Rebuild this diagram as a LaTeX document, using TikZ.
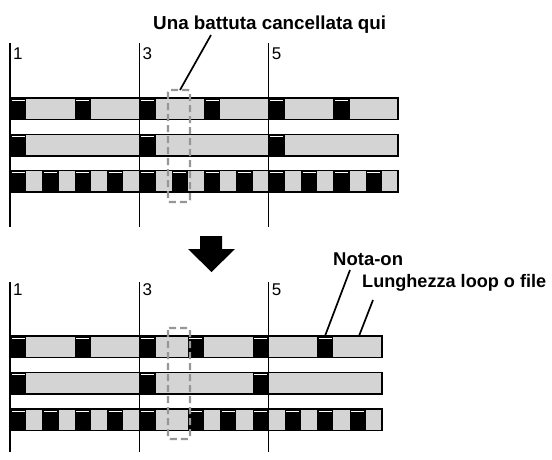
\documentclass[tikz,border=0pt]{standalone}
\usepackage{fontspec}
\setmainfont{Liberation Sans}
\definecolor{bargray}{RGB}{212,212,212}
\definecolor{dashgray}{RGB}{150,150,150}
\tikzset{
  barfill/.style={fill=bargray},
  barline/.style={line width=1.6pt},
  measureline/.style={line width=1.5pt},
  numlabel/.style={anchor=base west, inner sep=0pt, font=\fontsize{17}{17}\selectfont},
  calllabel/.style={inner sep=0pt, anchor=base west, font=\fontsize{#1}{#1}\selectfont\bfseries},
  calllabel/.default=18.5,
  leader/.style={line width=1.7pt},
  cutbox/.style={draw=dashgray, line width=2.3pt, dash pattern=on 7pt off 4pt, rounded corners=2pt},
}
\newcommand{\drawbar}[3]{%
  \fill[barfill] (10,#1) rectangle (#2,#1+21.5);
  \foreach \bx in {#3} {
    \fill[black] (\bx,#1) rectangle (\bx+16.17,#1+21.5);
    \draw[white, line width=0.7pt] (\bx+1.6,#1+1.9) -- (\bx+14.57,#1+1.9);
  }
  \draw[barline] (10,#1) rectangle (#2,#1+21.5);
}
\begin{document}
\begin{tikzpicture}[x=1pt,y=-1pt]
\useasboundingbox (0,0) rectangle (552,459);
% ---------- top section ----------
\drawbar{98}{398}{10,74.67,139.33,204,268.67,333.33}
\drawbar{134.5}{398}{10,139.33,268.67}
\drawbar{170.5}{398}{10,42.33,74.67,107,139.33,171.67,204,236.33,268.67,301,333.33,365.67}
\foreach \mx/\lab in {10/1,139.33/3,268.67/5} {
  \draw[measureline] (\mx,43) -- (\mx,227);
  \node[numlabel] at (\mx+3,59.5) {\lab};
}
\draw[cutbox] (168,90) rectangle (190,202);
\coordinate (cutTop) at (180,90);
\node[calllabel=18.8] (title) at (153,29.5) {Una battuta cancellata qui};
\draw[leader] (cutTop) -- (211,35);
% ---------- arrow ----------
\fill[black] (200,236) -- (222,236) -- (222,249) -- (235,249) -- (211.5,272) -- (188,249) -- (200,249) -- cycle;
% ---------- bottom section ----------
\drawbar{336}{381.83}{10,74.67,139.33,187.83,252.5,317.17}
\drawbar{372.5}{381.83}{10,139.33,252.5}
\drawbar{409}{381.83}{10,42.33,74.67,107,139.33,187.83,220.17,252.5,284.83,317.17,349.5}
\foreach \mx/\lab in {10/1,139.33/3,268.67/5} {
  \draw[measureline] (\mx,282) -- (\mx,452);
  \node[numlabel] at (\mx+3,295) {\lab};
}
\draw[cutbox] (168,328) rectangle (190,439);
\node[calllabel=18.5] (notaon) at (333,265.5) {Nota-on};
\node[calllabel=18.1] (lungh) at (362,287) {Lunghezza loop o file};
\coordinate (noteTip) at (325,336);
\coordinate (noteEnd) at (350,270);
\coordinate (lenTip) at (359,336);
\coordinate (lenEnd) at (373,300);
\draw[leader] (noteTip) -- (noteEnd);
\draw[leader] (lenTip) -- (lenEnd);
\end{tikzpicture}
\end{document}
